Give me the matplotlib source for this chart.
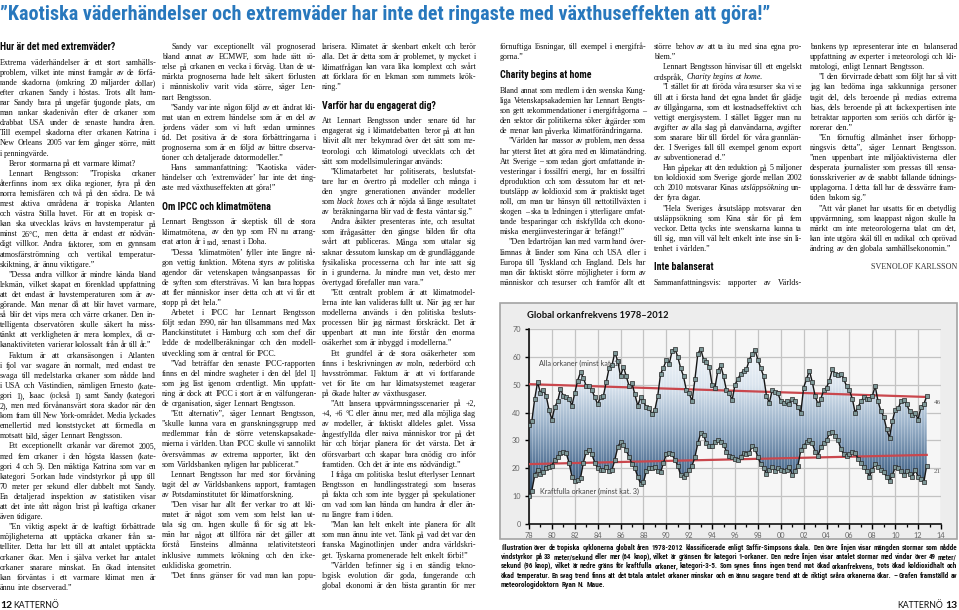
import numpy as np
import matplotlib
matplotlib.use("Agg")
import matplotlib.pyplot as plt
from matplotlib import font_manager
from matplotlib.colors import LinearSegmentedColormap
from matplotlib.patches import Rectangle

# ---------------------------------------------------------------------------
# chart data: running hurricane counts
start_year = 1978
all_hurricanes = [
    35.5, 37, 45, 51, 47, 48, 46, 41, 37.5, 42, 44, 48.5, 46, 45.5, 45, 42.5,
    47, 51.5, 54.5, 52.5, 49.5, 49.5, 48, 45.5, 43, 45.5, 46, 51, 56, 57, 61.5, 58.5,
    53, 56.5, 53, 49.5, 50.5, 46.5, 42.5, 45.5, 44, 42, 41.5, 39.5, 41, 46, 54, 56,
    59, 57.5, 62, 63, 60, 56, 53, 48, 47, 44, 52, 61, 63, 59, 58, 56.5,
    50, 49, 55, 57, 53, 48, 47, 44.5, 50, 52, 54, 55, 55.5, 59, 61, 62.5,
    59, 56, 53, 46, 43.5, 48, 47.5, 47, 44, 43.5, 44, 43, 45, 44, 42, 40,
    49, 52, 55, 51, 46, 43, 45, 48, 49, 51.5, 55.5, 54, 53.5, 54, 52, 49.5,
    48, 45, 40, 42, 44, 45.5, 45, 45, 46, 49.5, 44, 40.5, 38.5, 34, 31, 37,
    41, 41.5, 44, 44.5, 43, 40.5, 39, 40, 37.5, 42, 43, 46,
]
major_hurricanes = [
    10, 12, 17.5, 19.5, 18, 18.5, 20, 20.5, 21, 23, 24, 25.5, 26, 25.5, 22, 17,
    15.5, 15.8, 16.5, 22, 26, 26.5, 25, 22, 20, 19.5, 19.5, 20.5, 19, 19.5, 23, 27.5,
    29.5, 28.5, 26.5, 24, 21.5, 20, 17, 14.5, 15, 19, 20, 20, 20.5, 19, 18.5, 22,
    25, 25.5, 25, 23, 21, 17.5, 17, 18, 19.5, 21, 24, 29, 32.5, 32, 29, 28,
    28, 29.5, 30, 29.5, 28.5, 26, 24.5, 24, 23.5, 23, 24, 25.5, 25, 25.5, 28, 27,
    24, 21.5, 20, 18, 19.5, 20.5, 19, 20, 19.5, 19, 19.5, 20.5, 17.5, 19, 21, 26.5,
    28, 29.5, 30, 29, 26, 24.5, 27.5, 29, 30, 32.5, 33, 31.5, 30, 27, 25, 24.5,
    25, 26, 25.5, 23.5, 22, 20.5, 19, 17, 19.5, 21.5, 20.5, 19.5, 18.5, 17, 15.5, 17.5,
    20.5, 20, 19, 17.5, 19, 18, 17, 19.5, 17, 16, 15, 21,
]
trend_years = [1978, 2012.75]
trend_all = [50.2, 45.6]
trend_major = [21.5, 24.8]
end_labels = ["46", "21"]
end_label_values = [43.6, 19.0]

chart_title = "Global orkanfrekvens 1978–2012"
label_all = "Alla orkaner (minst kat. 1)"
label_major = "Kraftfulla orkaner (minst kat. 3)"

# ---------------------------------------------------------------------------
# page texts
headline = ("”Kaotiska väderhändelser och extremväder har inte det ringaste "
            "med växthuseffekten att göra!”")

col_a = """## Hur är det med extremväder?
Extrema väderhändelser är ett stort samhälls-
problem, vilket inte minst framgår av de förfä-
rande skadorna (omkring 20 miljarder dollar)
efter orkanen Sandy i höstas. Trots allt ham-
nar Sandy bara på ungefär tjugonde plats, om
man rankar skadenivån efter de orkaner som
drabbat USA under de senaste hundra åren.
Till exempel skadorna efter orkanen Katrina i
New Orleans 2005 var fem gånger större, mätt
i penningvärde.
> Beror stormarna på ett varmare klimat?
> Lennart Bengtsson: ”Tropiska orkaner
återfinns inom sex olika regioner, fyra på den
norra hemisfären och två på den södra. De två
mest aktiva områdena är tropiska Atlanten
och västra Stilla havet. För att en tropisk or-
kan ska utvecklas krävs en havstemperatur på
minst 26°C, men detta är endast *ett* nödvän-
digt villkor. Andra faktorer, som en gynnsam
atmosfärströmning och vertikal temperatur-
skiktning, är ännu viktigare.”
> ”Dessa andra villkor är mindre kända bland
lekmän, vilket skapat en förenklad uppfattning
att det endast är havstemperaturen som är av-
görande. Man menar då att blir havet varmare,
så blir det vips mera och värre orkaner. Den in-
telligenta observatören skulle säkert ha miss-
tänkt att verkligheten är mera komplex, då or-
kanaktiviteten varierar kolossalt från år till år.”
> Faktum är att orkansäsongen i Atlanten
i fjol var svagare än normalt, med endast tre
svaga till medelstarka orkaner som nådde land
i USA och Västindien, nämligen Ernesto (kate-
gori 1), Isaac (också 1) samt Sandy (kategori
2), men med förvånansvärt stora skador när den
kom fram till New York-området. Media lyckades
emellertid med konststycket att förmedla en
motsatt bild, säger Lennart Bengtsson.
> Ett exceptionellt orkanår var däremot 2005,
med fem orkaner i den högsta klassen (kate-
gori 4 och 5). Den mäktiga Katrina som var en
kategori 5-orkan hade vindstyrkor på upp till
70 meter per sekund eller dubbelt mot Sandy.
En detaljerad inspektion av statistiken visar
att det inte rått någon brist på kraftiga orkaner
även tidigare.
> ”En viktig aspekt är de kraftigt förbättrade
möjligheterna att upptäcka orkaner från sa-
telliter. Detta har lett till att antalet upptäckta
orkaner ökar. Men i själva verket har antalet
orkaner snarare minskat. En ökad intensitet
kan förväntas i ett varmare klimat men är
ännu inte observerad.”"""

col_b = """> Sandy var exceptionellt väl prognoserad
bland annat av ECMWF, som hade rätt rö-
relse på orkanen en vecka i förväg. Utan de ut-
märkta prognoserna hade helt säkert förlusten
i människoliv varit vida större, säger Len-
nart Bengtsson.
> ”Sandy var inte någon följd av ett ändrat kli-
mat utan en extrem händelse som är en del av
jordens väder som vi haft sedan urminnes
tid. Det positiva är de stora förbättringarna i
prognoserna som är en följd av bättre observa-
tioner och detaljerade datormodeller.”
> Hans sammanfattning: ”Kaotiska väder-
händelser och ’extremväder’ har inte det ring-
aste med växthuseffekten att göra!”
## Om IPCC och klimatmötena
Lennart Bengtsson är skeptisk till de stora
klimatmötena, av den typ som FN nu arrang-
erat arton år i rad, senast i Doha.
> ”Dessa ’klimatmöten’ fyller inte längre nå-
gon vettig funktion. Mötena styrs av politiska
agendor där vetenskapen tvångsanpassas för
de syften som eftersträvas. Vi kan bara hoppas
att fler människor inser detta och att vi får ett
stopp på det hela.”
> Arbetet i IPCC har Lennart Bengtsson
följt sedan 1990, när han tillsammans med Max
Planckinstitutet i Hamburg och som chef där
ledde de modellberäkningar och den modell-
utveckling som är central för IPCC.
> ”Vad beträffar den senaste IPCC-rapporten
finns en del mindre svagheter i den del [del 1]
som jag läst igenom ordentligt. Min uppfatt-
ning är dock att IPCC i stort är en välfungeran-
de organisation, säger Lennart Bengtsson.
> ”Ett alternativ”, säger Lennart Bengtsson,
”skulle kunna vara en granskningsgrupp med
medlemmar från de större vetenskapsakade-
mierna i världen. Utan IPCC skulle vi sannolikt
översvämmas av extrema rapporter, likt den
som Världsbanken nyligen har publicerat.”
> Lennart Bengtsson har med stor förvåning
tagit del av Världsbankens rapport, framtagen
av Potsdaminstitutet för klimatforskning.
> ”Den visar hur allt fler verkar tro att kli-
matet är något som vem som helst kan ut-
tala sig om. Ingen skulle få för sig att lek-
män har något att tillföra när det gäller att
förstå Einsteins allmänna relativitetsteori
inklusive rummets krökning och den icke-
euklidiska geometrin.
> ”Det finns gränser för vad man kan popu-"""

col_c = """larisera. Klimatet är skenbart enkelt och berör
alla. Det är detta som är problemet, ty mycket i
klimatfrågan kan vara lika komplext och svårt
att förklara för en lekman som rummets krök-
ning.”
## Varför har du engagerat dig?
Att Lennart Bengtsson under senare tid har
engagerat sig i klimatdebatten beror på att han
blivit allt mer bekymrad över det sätt som me-
teorologi och klimatologi utvecklats och det
sätt som modellsimuleringar används:
> ”Klimatarbetet har politiserats, beslutsfat-
tare har en övertro på modeller och många i
den yngre generationen använder modeller
som *black boxes* och är nöjda så länge resultatet
av beräkningarna blir vad de flesta väntar sig.”
> Andra åsikter presenteras inte, och resultat
som ifrågasätter den gängse bilden får ofta
svårt att publiceras. Många som uttalar sig
saknar dessutom kunskap om de grundläggande
fysikaliska processerna och har inte satt sig
in i grunderna. Ju mindre man vet, desto mer
övertygad förefaller man vara.”
> ”Ett centralt problem är att klimatmodel-
lerna inte kan valideras fullt ut. När jag ser hur
modellerna används i den politiska besluts-
processen blir jag närmast förskräckt. Det är
uppenbart att man inte förstår den enorma
osäkerhet som är inbyggd i modellerna.”
> Ett grundfel är de stora osäkerheter som
finns i beskrivningen av moln, nederbörd och
havsströmmar. Faktum är att vi fortfarande
vet för lite om hur klimatsystemet reagerar
på ökade halter av växthusgaser.
> ”Att lansera uppvärmningsscenarier på +2,
+4, +6 °C eller ännu mer, med alla möjliga slag
av modeller, är faktiskt alldeles galet. Vissa
ångestfyllda eller naiva människor tror på det
här och börjar planera för det värsta. Det är
oförsvarbart och skapar bara onödig oro inför
framtiden. Och det är inte ens nödvändigt.”
> I fråga om politiska beslut efterlyser Lennart
Bengtsson en handlingsstrategi som baseras
på fakta och som inte bygger på spekulationer
om vad som kan hända om hundra år eller än-
nu längre fram i tiden.
> ”Man kan helt enkelt inte planera för allt
som man ännu inte vet. Tänk på vad det var den
franska Maginotlinjen under andra världskri-
get. Tyskarna promenerade helt enkelt förbi!”
> ”Världen befinner sig i en ständig tekno-
logisk evolution där goda, fungerande och
global ekonomi är den bästa garantin för mer"""

col_d = """förnuftiga lösningar, till exempel i energifrå-
gorna.”
## Charity begins at home
Bland annat som medlem i den svenska Kung-
liga Vetenskapsakademien har Lennart Bengts-
son gett rekommendationer i energifrågorna –
den sektor där politikerna söker åtgärder som
de menar kan påverka klimatförändringarna.
> ”Världen har massor av problem, men dessa
har ytterst litet att göra med en klimatändring.
Att Sverige – som redan gjort omfattande in-
vesteringar i fossilfri energi, har en fossilfri
elproduktion och som dessutom har ett net-
toutsläpp av koldioxid som är praktiskt taget
noll, om man tar hänsyn till nettotillväxten i
skogen – ska ta ledningen i ytterligare omfat-
tande besparingar och riskfyllda och ekono-
miska energiinvesteringar är befängt!”
> ”Den ledartröjan kan med varm hand över-
lämnas åt länder som Kina och USA eller i
Europa till Tyskland och England. Dels har
man där faktiskt större möjligheter i form av
människor och resurser och framför allt ett"""

col_e = """större behov av att ta itu med sina egna pro-
blem.”
> Lennart Bengtsson hänvisar till ett engelskt
ordspråk, *Charity begins at home*.
> ”I stället för att föröda våra resurser ska vi se
till att i första hand det egna landet får glädje
av tillgångarna, som ett kostnadseffektivt och
vettigt energisystem. I stället lägger man nu
avgifter av alla slag på elanvändarna, avgifter
som snarare blir till fördel för våra grannlän-
der. I Sveriges fall till exempel genom export
av subventionerad el.”
> Han påpekar att den reduktion på 5 miljoner
ton koldioxid som Sverige gjorde mellan 2002
och 2010 motsvarar Kinas *utsläppsökning* un-
der fyra dagar.
> ”Hela Sveriges årsutsläpp motsvarar den
utsläppsökning som Kina står för på fem
veckor. Detta tycks inte svenskarna kunna ta
till sig, man vill väl helt enkelt inte inse sin li-
tenhet i världen.”
## Inte balanserat
Sammanfattningsvis: rapporter av Världs-"""

col_f = """bankens typ representerar inte en balanserad
uppfattning av experter i meteorologi och kli-
matologi, enligt Lennart Bengtsson.
> ”I den förvirrade debatt som följt har så vitt
jag kan bedöma inga sakkunniga personer
tagit del, dels beroende på medias extrema
bias, dels beroende på att fackexpertisen inte
betraktar rapporten som seriös och därför ig-
norerar den.”
> ”En förnuftig allmänhet inser förhopp-
ningsvis detta”, säger Lennart Bengtsson.
”men uppenbart inte miljöaktivisterna eller
desperata journalister som pressas till sensa-
tionsskriverier av de snabbt fallande tidnings-
upplagorna. I detta fall har de dessvärre fram-
tiden bakom sig.”
> ”Att vår planet har utsatts för en obetydlig
uppvärmning, som knappast någon skulle ha
märkt om inte meteorologerna talat om det,
kan inte utgöra skäl till en radikal och oprövad
ändring av den globala samhällsekonomin.”"""

byline = "SVENOLOF KARLSSON"

caption = [
    "Illustration över de tropiska cyklonerna globalt åren 1978-2012 klassificerade enligt "
    "Saffir-Simpsons skala. Den övre linjen visar mängden stormar som nådde",
    "vindstyrkor på 33 meter/sekund eller mer (64 knop), vilket är gränsen för kategori "
    "1-orkaner. Den nedre linjen visar antalet stormar med vindar över 49 meter/",
    "sekund (96 knop), vilket är nedre gräns för kraftfulla orkaner, kategori-3-5. Som synes "
    "finns ingen trend mot ökad orkanfrekvens, trots ökad koldioxidhalt och",
    "ökad temperatur. En svag trend finns att det totala antalet orkaner minskar och en ännu "
    "svagare trend att de riktigt svåra orkanerna ökar. – Grafen framställd av",
    "meteorologidoktorn Ryan N. Maue.",
]

# ---------------------------------------------------------------------------
W, H = 959, 610
fig = plt.figure(figsize=(W / 100, H / 100), dpi=100)
fig.patch.set_facecolor("white")
pg = fig.add_axes([0, 0, 1, 1])
pg.set_xlim(0, W)
pg.set_ylim(H, 0)
pg.axis("off")
R = fig.canvas.get_renderer()

names = {f.name for f in font_manager.fontManager.ttflist}
if "Roboto Condensed" in names:
    COND = "Roboto Condensed"
elif "Liberation Sans Narrow" in names:
    COND = "Liberation Sans Narrow"
else:
    COND = "Roboto"
SERIF = "Liberation Serif"
SANS = "Lato"
INK = "#0e0e0e"


def width_of(t):
    return t.get_window_extent(renderer=R).width


def fit_text(x, y, s, target, family, weight="normal", color=INK, ha="left"):
    t = pg.text(x, y, s, fontsize=10, family=family, weight=weight,
                color=color, va="center", ha=ha)
    t.set_fontsize(10 * target / width_of(t))
    return t


def put_line(x0, x1, y, line, size, family, justify, weight="normal", color=INK):
    words = line.split()
    ts, italic = [], False
    for w in words:
        if w.startswith("*"):
            italic = True
        style = "italic" if italic else "normal"
        if w.rstrip(".,:;!?”").endswith("*"):
            italic = False
        ts.append(pg.text(0, y, w.replace("*", ""), fontsize=size, family=family,
                          weight=weight, style=style, color=color, va="center"))
    ws = [width_of(t) for t in ts]
    space = size * 100 / 72 * 0.25
    avail = x1 - x0
    natural = sum(ws) + space * (len(ws) - 1)
    if natural > avail:
        k = avail / natural
        for t in ts:
            t.set_fontsize(size * k)
        ws = [w * k for w in ws]
        space *= k
    gap = space
    if justify and len(ws) > 1:
        gap = (avail - sum(ws)) / (len(ws) - 1)
    x = x0
    for t, w in zip(ts, ws):
        t.set_x(x)
        x += w + gap


# headline
fit_text(0, 14, headline, 768, COND, weight="bold", color="#2878bd")

Y0, L = 47, 10.1
BODY = 5.8
INDENT = 9
head_probe = pg.text(0, 0, "Hur är det med extremväder?", fontsize=10,
                     family=COND, weight="bold")
HEAD = 10 * 115 / width_of(head_probe)
head_probe.remove()

columns = [(0, 156, col_a), (162, 316, col_b), (322, 476, col_c),
           (500, 646, col_d), (654, 802, col_e), (810, 957, col_f)]
col_bottoms = []
for x0, x1, text in columns:
    lines = text.split("\n")
    y = Y0 - L
    for i, raw in enumerate(lines):
        nxt = lines[i + 1] if i + 1 < len(lines) else None
        if raw.startswith("## "):
            y = Y0 if i == 0 else y + 1.8 * L
            pg.text(x0, y, raw[3:], fontsize=HEAD, family=COND, weight="bold",
                    color="#0a0a0a", va="center")
            y += 0.55 * L
            continue
        y += L
        indent = INDENT if raw.startswith("> ") else 0
        body = raw[2:] if raw.startswith("> ") else raw
        if nxt is None:
            last = body.rstrip().endswith((".", "”", "?", "!", ":"))
        else:
            last = nxt.startswith(("> ", "## "))
        put_line(x0 + indent, x1, y, body, BODY, SERIF, not last)
    col_bottoms.append(y)

# byline under the last column
fit_text(957, col_bottoms[-1] + 1.8 * L, byline, 86, SERIF, color="#333333", ha="right")

# chart frame, title and caption
pg.add_patch(Rectangle((500, 303), 457, 236, facecolor="#ededed",
                       edgecolor="#a3a3a3", lw=1.2, zorder=0))
fit_text(527, 316, chart_title, 141, SANS, weight="bold", color="#111111")
for i, line in enumerate(caption):
    put_line(501, 957, 548 + i * 9.25, line, 5.4, COND, i < len(caption) - 1,
             weight="bold", color="#111111")

# folios
pg.text(0, 605, "12", fontsize=7.5, family=SANS, weight="bold", color=INK, va="center")
pg.text(13, 605, "KATTERNÖ", fontsize=6.3, family=SANS, color=INK, va="center")
pg.text(957, 605, "13", fontsize=7.5, family=SANS, weight="bold", color=INK,
        va="center", ha="right")
pg.text(943, 605, "KATTERNÖ", fontsize=6.3, family=SANS, color=INK,
        va="center", ha="right")

# ---------------------------------------------------------------------------
# the graph itself
x_left, x_right, y_top, y_bottom = 529, 941, 329, 524
ax = fig.add_axes([x_left / W, 1 - y_bottom / H, (x_right - x_left) / W,
                   (y_bottom - y_top) / H])
years = start_year + 0.25 * np.arange(len(all_hurricanes))
upper = np.array(all_hurricanes)
lower = np.array(major_hurricanes)

ax.set_facecolor("#f6f6f6")
band = ax.fill_between(years, lower, upper, color="none", lw=0)
ramp = LinearSegmentedColormap.from_list(
    "ramp", ["#2c4a68", "#59789a", "#9db4cb", "#dbe5ef", "#f3f6fa"])
im = ax.imshow(np.linspace(0, 1, 256).reshape(-1, 1), extent=[1978, 2014, 8, 64],
               origin="lower", cmap=ramp, aspect="auto", zorder=2)
im.set_clip_path(band.get_paths()[0], transform=ax.transData)
ax.vlines(years, lower, upper, colors="white", lw=0.5, alpha=0.35, zorder=2.2)

ax.plot(trend_years, trend_all, color="#c9474d", lw=1.6, zorder=3)
ax.plot(trend_years, trend_major, color="#c9474d", lw=1.6, zorder=3)
for series in (upper, lower):
    ax.plot(years, series, color="#151515", lw=1.0, marker="s", ms=2.8,
            mfc="#7e9898", mec="#262626", mew=0.5, zorder=4)

ax.text(1978.9, 57.5, label_all, fontsize=5.2, family=SANS, color="#444444",
        va="center", zorder=5)
ax.text(1979.0, 11.8, label_major, fontsize=5.2, family=SANS, color="#444444",
        va="center", zorder=5)
for lab, val in zip(end_labels, end_label_values):
    ax.text(2013.35, val, lab, fontsize=5, family=SERIF, color="#555555",
            va="center", zorder=5)

ax.set_xlim(1978, 2014)
ax.set_ylim(0, 70)
xt = np.arange(1978, 2015, 2)
ax.set_xticks(xt)
ax.set_xticklabels([f"{y % 100:02d}" for y in xt], fontsize=5.3, family=SANS,
                   color="#666666")
ax.set_xticks(np.arange(1979, 2014, 2), minor=True)
yt = np.arange(0, 71, 10)
ax.set_yticks(yt)
ax.set_yticklabels([str(v) for v in yt], fontsize=5.3, family=SANS, color="#666666")
ax.grid(True, which="major", color="#c3c3c3", lw=0.9)
ax.set_axisbelow(True)
ax.tick_params(axis="x", which="major", length=3.5, width=1, pad=2)
ax.tick_params(axis="x", which="minor", length=2.5, width=0.9)
ax.tick_params(axis="y", length=3, width=1, pad=3)
for side in ("top", "right"):
    ax.spines[side].set_visible(False)
for side in ("left", "bottom"):
    ax.spines[side].set_linewidth(1.2)
    ax.spines[side].set_color("#111111")

fig.savefig("out.png", dpi=100)
